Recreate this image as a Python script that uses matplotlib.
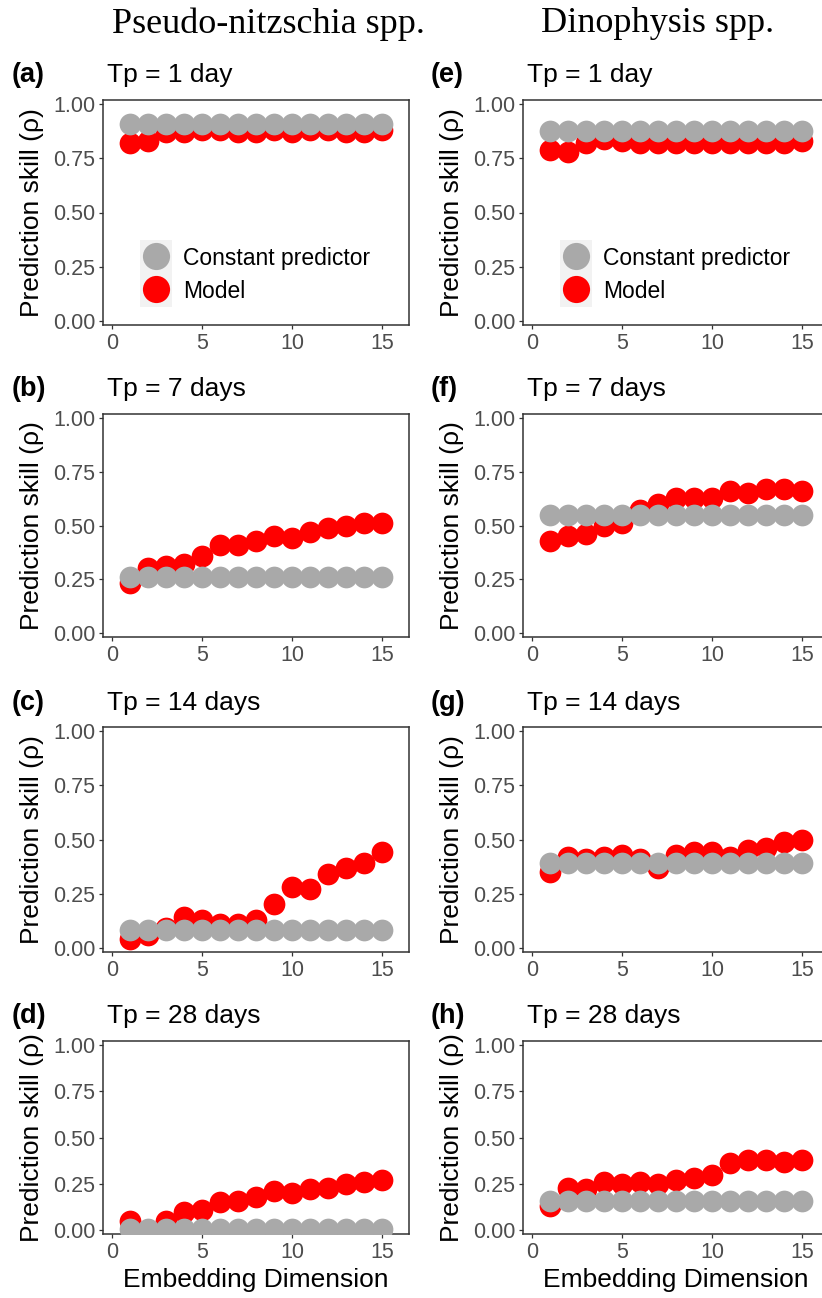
import matplotlib
matplotlib.use("Agg")
import matplotlib.pyplot as plt
from matplotlib.patches import Rectangle
import numpy as np

# ---------------- data ----------------
embedding_dim = list(range(1, 16))

pn_const = {1: 0.91, 7: 0.26, 14: 0.08, 28: 0.005}
pn_model = {
    1:  [0.82, 0.83, 0.87, 0.87, 0.88, 0.88, 0.87, 0.87, 0.88, 0.87, 0.88, 0.88, 0.87, 0.87, 0.88],
    7:  [0.23, 0.30, 0.31, 0.32, 0.36, 0.41, 0.41, 0.43, 0.45, 0.44, 0.47, 0.49, 0.50, 0.51, 0.51],
    14: [0.04, 0.06, 0.09, 0.14, 0.13, 0.11, 0.11, 0.13, 0.20, 0.28, 0.27, 0.34, 0.37, 0.39, 0.44],
    28: [0.05, 0.00, 0.05, 0.10, 0.11, 0.15, 0.16, 0.18, 0.21, 0.20, 0.22, 0.23, 0.25, 0.26, 0.27],
}
dino_const = {1: 0.875, 7: 0.55, 14: 0.39, 28: 0.16}
dino_model = {
    1:  [0.79, 0.78, 0.82, 0.84, 0.83, 0.82, 0.82, 0.82, 0.82, 0.82, 0.82, 0.82, 0.82, 0.82, 0.83],
    7:  [0.43, 0.45, 0.46, 0.50, 0.51, 0.57, 0.60, 0.63, 0.63, 0.63, 0.66, 0.65, 0.67, 0.67, 0.66],
    14: [0.35, 0.42, 0.41, 0.42, 0.43, 0.41, 0.37, 0.43, 0.44, 0.44, 0.42, 0.45, 0.46, 0.49, 0.50],
    28: [0.13, 0.23, 0.22, 0.26, 0.25, 0.26, 0.25, 0.27, 0.28, 0.30, 0.36, 0.38, 0.38, 0.37, 0.38],
}
horizons = [1, 7, 14, 28]
tp_labels = ["Tp = 1 day", "Tp = 7 days", "Tp = 14 days", "Tp = 28 days"]
tags_left = ["(a)", "(b)", "(c)", "(d)"]
tags_right = ["(e)", "(f)", "(g)", "(h)"]
column_titles = ["Pseudo-nitzschia spp.", "Dinophysis spp."]
y_ticks = [0.0, 0.25, 0.5, 0.75, 1.0]
y_ticklabels = ["0.00", "0.25", "0.50", "0.75", "1.00"]
x_ticks = [0, 5, 10, 15]
legend_labels = ["Constant predictor", "Model"]

# ---------------- style ----------------
W, H = 822, 1298
DPI = 100
plt.rcParams['font.family'] = ['Liberation Sans', 'DejaVu Sans']
GREY = '#A9A9A9'
RED = '#FF0000'
PT_S = 245

fig = plt.figure(figsize=(W / DPI, H / DPI), dpi=DPI)
fig.patch.set_facecolor('white')

col_lr = [(103, 409), (523, 829)]
row_tb = [(100, 325), (414, 637), (727, 952), (1041, 1234)]
row_text_y = [75, 389, 703, 1016]


def px_axes(l, t, r, b):
    return fig.add_axes([l / W, 1 - b / H, (r - l) / W, (b - t) / H])


columns = [(pn_const, pn_model, tags_left), (dino_const, dino_model, tags_right)]
for ci, (const, model, tags) in enumerate(columns):
    l, r = col_lr[ci]
    for ri, h in enumerate(horizons):
        t, b = row_tb[ri]
        ax = px_axes(l, t, r, b)
        sm = ax.scatter(embedding_dim, model[h], s=PT_S, color=RED, linewidths=0, zorder=3)
        sc = ax.scatter(embedding_dim, [const[h]] * len(embedding_dim), s=PT_S,
                        color=GREY, linewidths=0, zorder=4)
        ax.set_xlim(-0.5, 16.5)
        ax.set_ylim(-0.02, 1.02)
        ax.set_yticks(y_ticks)
        ax.set_yticklabels(y_ticklabels)
        ax.set_xticks(x_ticks)
        ax.tick_params(axis='both', which='major', length=3.2, width=0.9,
                       color='#333333', labelcolor='#4D4D4D', labelsize=15.5, pad=2.5)
        for sp in ax.spines.values():
            sp.set_color('#333333')
            sp.set_linewidth(1.1)
        ax.set_ylabel("Prediction skill (ρ)", fontsize=19, color='black', labelpad=6)
        if ri == 3:
            ax.set_xlabel("Embedding Dimension", fontsize=19, color='black', labelpad=4)
        if ri == 0:
            ax.add_patch(Rectangle((0.121, 0.08), 0.104, 0.298, transform=ax.transAxes,
                                   facecolor='#F2F2F2', edgecolor='none', zorder=5))
            leg = ax.legend([sc, sm], legend_labels, loc='upper left',
                            bbox_to_anchor=(0.121, 0.355), frameon=False,
                            borderpad=0, borderaxespad=0, handlelength=1.39,
                            handleheight=1.3, labelspacing=0.33, handletextpad=0.5,
                            scatterpoints=1, markerscale=1.25, fontsize=16.5)
            leg.set_zorder(6)
        # panel tag and sub-title
        ty = 1 - row_text_y[ri] / H
        tag_x = 12 if ci == 0 else 431
        sub_x = 107 if ci == 0 else 527
        fig.text(tag_x / W, ty, tags[ri], fontsize=19.5, fontweight='bold', va='center', ha='left')
        fig.text(sub_x / W, ty, tp_labels[ri], fontsize=19, va='center', ha='left')

fig.text(268 / W, 1 - 24 / H, column_titles[0], fontsize=26, family='Liberation Serif',
         ha='center', va='center')
fig.text(658 / W, 1 - 24 / H, column_titles[1], fontsize=26, family='Liberation Serif',
         ha='center', va='center')

fig.savefig("out.png", dpi=DPI)
